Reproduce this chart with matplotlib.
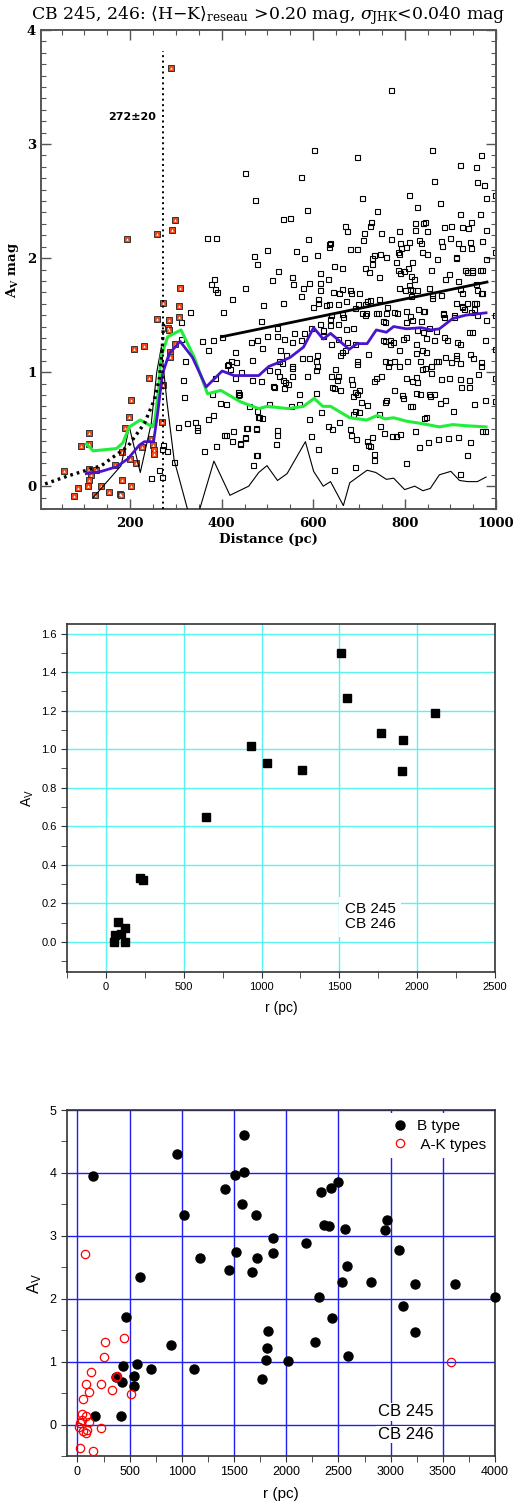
import numpy as np
import matplotlib
matplotlib.use('Agg')
import matplotlib.pyplot as plt
from matplotlib.ticker import MultipleLocator

plt.rcParams['mathtext.fontset'] = 'dejavuserif'

# ---------------- painel 1: A_V x distancia (CB 245/246) ----------------
# estrelas de fundo (quadrados abertos): (distancia pc, A_V mag)
fundo = np.array([
    (272, 0.36), (270, 0.33), (280, 0.31), (262, 0.14), (269, 0.08), (245, 0.07), (296, 0.21),
    (304, 0.52), (317, 0.78), (324, 0.55), (341, 0.56), (347, 0.52), (347, 0.49), (371, 0.59),
    (381, 0.62), (361, 0.31), (388, 0.35), (396, 0.73), (409, 0.72), (435, 0.83), (435, 0.80),
    (405, 0.45), (410, 0.45), (424, 0.48), (422, 0.40), (441, 0.38), (451, 0.42), (456, 0.51),
    (475, 0.50), (460, 0.70), (478, 0.66), (482, 0.61), (469, 0.19), (477, 0.27),
    (367, 2.18), (388, 2.18), (383, 1.82), (376, 1.77), (385, 1.73), (389, 1.70), (423, 1.64),
    (330, 1.53), (402, 1.53), (312, 1.44), (311, 1.29), (357, 1.27), (380, 1.28), (401, 1.31),
    (370, 1.19), (428, 1.18), (320, 1.10), (411, 1.06), (418, 1.03), (430, 0.95), (385, 0.95),
    (316, 0.93), (438, 0.81), (378, 0.81),
    (601, 2.95), (452, 2.75), (574, 2.71), (472, 2.51), (533, 2.34), (550, 2.35), (587, 2.42),
    (588, 2.17), (635, 2.12), (635, 2.10), (470, 2.02), (498, 2.07), (477, 1.95), (563, 2.06),
    (580, 2.00), (608, 2.03), (524, 1.89), (511, 1.81), (553, 1.83), (555, 1.77), (590, 1.78),
    (577, 1.74), (614, 1.87), (633, 1.82), (616, 1.78), (616, 1.72), (450, 1.74), (573, 1.67),
    (611, 1.64), (611, 1.61), (534, 1.61), (490, 1.59), (485, 1.45), (599, 1.57), (628, 1.59),
    (464, 1.26), (477, 1.28), (498, 1.32), (520, 1.39), (520, 1.32), (536, 1.29), (557, 1.34),
    (553, 1.26), (574, 1.28), (596, 1.39), (621, 1.37), (488, 1.21), (528, 1.19), (540, 1.15),
    (414, 1.07), (420, 1.10), (432, 1.09), (443, 1.00), (467, 1.11), (504, 1.02), (525, 1.10),
    (531, 1.08), (553, 1.04), (575, 1.12), (591, 1.12), (608, 1.15), (609, 1.05), (587, 0.97),
    (554, 0.97), (467, 0.93), (485, 0.92), (526, 0.97), (535, 0.93), (544, 0.90), (512, 0.88),
    (770, 3.47), (696, 2.89), (860, 2.95), (707, 2.53), (809, 2.55), (922, 2.82), (967, 2.90),
    (957, 2.80), (864, 2.68), (959, 2.67), (974, 2.64), (977, 2.53), (826, 2.45), (878, 2.48),
    (740, 2.41), (922, 2.39), (964, 2.39), (670, 2.28), (673, 2.24), (726, 2.32), (725, 2.28),
    (712, 2.22), (749, 2.22), (771, 2.17), (788, 2.24), (823, 2.31), (840, 2.31), (844, 2.32),
    (823, 2.25), (848, 2.24), (885, 2.27), (901, 2.28), (925, 2.27), (938, 2.26), (944, 2.32),
    (977, 2.25), (637, 2.13), (680, 2.08), (696, 2.08), (709, 2.16), (789, 2.13), (791, 2.09),
    (810, 2.14), (804, 2.10), (832, 2.16), (835, 2.13), (838, 2.05), (848, 2.04), (880, 2.15),
    (881, 2.11), (899, 2.18), (917, 2.13), (925, 2.09), (943, 2.14), (945, 2.09), (970, 2.15),
    (788, 2.04), (746, 2.04), (729, 2.00), (729, 1.95), (816, 1.97), (870, 1.99), (913, 2.00),
    (977, 1.99), (646, 1.93), (663, 1.91), (713, 1.91), (722, 1.88), (662, 1.73), (681, 1.72),
    (682, 1.69), (656, 1.69), (644, 1.70), (700, 1.69), (713, 1.60), (725, 1.63), (744, 1.64),
    (745, 1.83), (786, 1.90), (808, 1.91), (788, 1.74), (811, 1.73), (813, 1.84), (820, 1.82),
    (854, 1.74), (859, 1.68), (830, 1.55), (840, 1.54), (860, 1.65), (880, 1.68), (858, 1.90),
    (888, 1.82), (896, 1.86), (917, 1.80), (937, 1.88), (947, 1.88), (965, 1.90), (922, 1.73),
    (925, 1.69), (956, 1.77), (958, 1.72), (967, 1.69), (801, 1.72), (762, 1.57), (777, 1.53),
    (737, 1.52), (707, 1.52), (714, 1.50), (752, 1.45), (757, 1.44), (802, 1.44), (817, 1.46),
    (883, 1.51), (885, 1.48), (908, 1.48), (946, 1.53), (952, 1.55), (958, 1.50), (926, 1.57),
    (929, 1.55), (955, 1.61), (978, 1.46), (688, 1.39), (672, 1.38),
    (616, 1.42), (637, 1.41), (654, 1.42), (621, 1.32), (521, 1.01), (554, 1.05), (607, 1.10),
    (607, 1.02), (538, 0.91), (537, 0.86), (515, 0.87), (570, 0.81), (606, 0.82), (552, 0.70),
    (568, 0.72), (503, 0.72), (480, 0.61), (489, 0.60), (454, 0.51), (474, 0.51), (450, 0.43),
    (441, 0.37), (522, 0.49), (521, 0.45), (519, 0.37), (476, 0.27), (595, 0.44), (591, 0.59),
    (617, 0.65), (610, 0.33), (646, 0.14), (640, 0.97), (651, 0.93), (642, 0.87), (659, 1.15),
    (662, 1.18), (654, 1.29), (638, 1.25), (673, 1.26), (692, 1.25), (720, 1.16), (696, 1.10),
    (696, 1.07), (646, 0.86), (658, 0.84), (633, 0.53), (641, 0.50), (657, 0.56), (682, 0.94),
    (684, 0.90), (691, 0.83), (701, 0.84), (688, 0.79), (696, 0.81), (704, 0.74), (717, 0.71),
    (691, 0.66), (688, 0.63), (700, 0.65), (681, 0.50), (682, 0.45), (693, 0.41), (691, 0.17),
    (733, 0.92), (748, 0.97), (760, 0.76), (758, 0.74), (744, 0.63), (777, 0.84), (795, 0.80),
    (797, 0.77), (717, 0.40), (719, 0.36), (725, 0.35), (729, 0.43), (733, 0.28), (733, 0.23),
    (747, 0.53), (754, 0.47), (772, 0.44), (790, 0.46), (780, 0.44), (756, 1.10), (765, 1.09),
    (776, 1.10), (767, 1.28), (758, 1.27), (775, 1.26), (796, 1.29), (825, 1.17), (837, 1.19),
    (846, 1.18), (804, 0.95), (824, 0.96), (816, 0.92), (826, 0.91), (824, 0.82), (834, 0.81),
    (853, 0.81), (856, 0.79), (865, 0.81), (812, 0.70), (817, 0.70), (802, 0.20), (823, 0.48),
    (832, 0.34), (843, 0.60), (847, 0.61), (851, 0.39), (873, 0.41), (895, 0.42), (916, 0.43),
    (942, 0.39), (936, 0.27), (921, 0.11), (969, 0.48), (826, 1.37), (841, 1.35), (846, 1.30),
    (853, 1.39), (869, 1.36), (886, 1.31), (892, 1.28), (915, 1.26), (922, 1.25), (940, 1.35),
    (947, 1.35), (833, 1.10), (838, 1.03), (857, 1.05), (869, 1.10), (888, 1.13), (901, 1.09),
    (913, 1.15), (920, 1.08), (943, 1.16), (968, 1.09), (857, 0.99), (880, 0.94), (898, 0.95),
    (920, 0.94), (941, 0.93), (961, 0.98), (941, 0.87), (877, 0.73), (888, 0.76), (906, 0.66),
    (923, 0.87), (951, 0.72), (975, 0.76), (975, 0.48),
    (635, 1.60), (654, 1.60), (672, 1.62), (699, 1.60), (717, 1.62), (638, 1.50), (636, 1.47),
    (664, 1.51), (666, 1.48), (691, 1.56), (715, 1.52), (741, 1.52), (760, 1.52), (783, 1.52),
    (802, 1.54), (842, 1.54), (811, 1.49), (836, 1.45), (884, 1.52), (907, 1.50), (925, 1.58),
    (913, 1.61), (937, 1.61), (951, 1.61), (969, 1.69), (912, 2.01), (932, 1.90), (948, 1.90),
    (969, 1.90), (789, 1.87), (798, 1.89), (809, 1.76), (817, 1.72), (828, 1.72), (814, 1.67),
    (760, 2.01), (782, 1.97), (786, 2.05), (733, 2.03), (647, 1.03), (654, 0.97), (738, 0.95),
    (763, 1.05), (787, 1.05), (805, 1.10), (844, 1.04), (872, 1.10), (912, 1.12), (949, 1.12),
    (967, 1.05), (580, 1.34), (669, 1.19), (753, 1.28), (769, 1.25), (788, 1.19), (804, 1.31),
    (825, 1.25), (864, 1.28), (975, 1.28),
    (997, 2.55), (997, 2.05), (997, 1.50), (997, 1.20), (997, 0.95), (997, 0.75),
])

# estrelas de primeiro plano (quadrados vermelhos)
frente = np.array([
    (289, 3.67), (298, 2.33), (291, 2.25), (259, 2.21), (194, 2.17), (309, 1.74), (272, 1.61),
    (306, 1.58), (259, 1.47), (285, 1.46), (306, 1.48), (282, 1.39), (285, 1.37), (299, 1.25),
    (286, 1.18), (288, 1.13), (209, 1.20), (230, 1.23), (242, 0.95), (272, 0.89), (202, 0.76),
    (198, 0.61), (189, 0.51), (109, 0.47), (92, 0.35), (109, 0.37), (245, 0.41), (226, 0.34),
    (249, 0.36), (253, 0.32), (251, 0.28), (183, 0.30), (199, 0.24), (167, 0.19), (213, 0.20),
    (56, 0.13), (110, 0.15), (126, 0.14), (114, 0.10), (109, 0.05), (181, 0.05), (108, 0.00),
    (137, 0.00), (85, -0.02), (202, 0.00), (154, -0.05), (78, -0.09), (123, -0.08), (178, -0.07),
    (180, -0.08), (269, 0.56),
])

# curva verde (media corrida)
verde = np.array([
    (104, 0.37), (119, 0.31), (170, 0.33), (184, 0.38), (198, 0.52), (222, 0.58), (249, 0.52),
    (254, 0.58), (262, 0.85), (267, 1.13), (282, 1.31), (311, 1.37), (340, 1.13), (369, 0.81),
    (398, 0.84), (441, 0.74), (481, 0.68), (499, 0.70), (546, 0.68), (579, 0.70), (602, 0.77),
    (621, 0.70), (638, 0.70), (680, 0.60), (717, 0.58), (740, 0.62), (757, 0.59), (776, 0.60),
    (804, 0.57), (836, 0.55), (876, 0.52), (905, 0.54), (934, 0.53), (978, 0.52),
])

# curva roxa (mediana corrida)
roxa = np.array([
    (104, 0.11), (137, 0.13), (170, 0.17), (195, 0.24), (220, 0.36), (231, 0.39), (251, 0.39),
    (260, 0.64), (267, 0.87), (271, 0.99), (285, 1.16), (309, 1.27), (336, 1.13), (366, 0.87),
    (401, 1.01), (427, 0.97), (481, 0.97), (503, 1.05), (528, 1.09), (550, 1.13), (579, 1.22),
    (601, 1.39), (622, 1.29), (638, 1.34), (679, 1.20), (696, 1.25), (718, 1.25), (738, 1.37),
    (760, 1.35), (776, 1.40), (804, 1.38), (836, 1.39), (858, 1.37), (876, 1.38), (905, 1.47),
    (934, 1.50), (978, 1.52),
])

# curva preta fina (dispersao)
sigma = np.array([
    (119, -0.10), (180, 0.18), (198, 0.52), (222, 0.12), (246, 0.55), (258, 1.00), (268, 1.22),
    (280, 0.75), (296, 0.23), (338, -0.39), (383, 0.22), (418, -0.08), (459, 0.00), (481, 0.12),
    (499, 0.18), (522, 0.05), (543, 0.11), (583, 0.39), (601, 0.13), (622, 0.00), (638, 0.04),
    (666, -0.17), (680, 0.03), (718, 0.14), (737, 0.12), (760, 0.06), (776, 0.07), (800, -0.03),
    (822, 0.00), (840, -0.04), (856, -0.02), (876, 0.10), (901, 0.13), (920, 0.05), (938, 0.04),
    (959, 0.04), (978, 0.08),
])

# ajuste linear das estrelas de fundo
ajuste_d = [400, 980]
ajuste_av = [1.31, 1.79]

# curva pontilhada (modelo) e distancia da nuvem
modelo = np.array([
    (14, 0.02), (64, 0.09), (137, 0.18), (195, 0.35), (231, 0.55), (253, 0.76), (264, 0.95),
    (270, 1.20), (273, 1.45),
])
dist_nuvem = 272
dist_topo = 3.82
rotulo_nuvem = '272\u00b120'

# ---------------- painel 2: A_V x r ----------------
r2 = [1510, 1549, 2115, 1770, 1909, 1905, 931, 1034, 1263, 641, 219, 238, 79, 120, 58, 53, 124, 100]
av2 = [1.50, 1.268, 1.186, 1.086, 1.049, 0.887, 1.018, 0.93, 0.894, 0.649, 0.332, 0.32, 0.104,
       0.07, 0.035, 0.0, 0.0, 0.04]

# ---------------- painel 3: tipos B e A-K ----------------
r_b = [154, 954, 1594, 1507, 1594, 1411, 1581, 1024, 1706, 1171, 602, 1517, 1456, 1677, 1725,
       1869, 1869, 2186, 2333, 2429, 2499, 2365, 2406, 2566, 2970, 2950, 3085, 2579, 2538, 2810,
       3232, 3613, 3997, 2317, 3123, 2438, 3235, 2275, 2595, 2013, 1811, 1814, 1827, 1766, 1120,
       893, 707, 573, 470, 438, 544, 538, 429, 374, 422, 166]
av_b = [3.95, 4.30, 4.60, 3.97, 4.01, 3.75, 3.50, 3.33, 3.33, 2.65, 2.35, 2.75, 2.45, 2.42, 2.65,
        2.97, 2.73, 2.88, 3.70, 3.76, 3.86, 3.18, 3.16, 3.11, 3.25, 3.10, 2.77, 2.52, 2.26, 2.26,
        2.23, 2.24, 2.02, 2.02, 1.88, 1.70, 1.47, 1.32, 1.09, 1.01, 1.03, 1.21, 1.48, 0.72, 0.88,
        1.26, 0.88, 0.96, 1.71, 0.93, 0.78, 0.62, 0.68, 0.75, 0.14, 0.13]
r_ak = [77, 266, 256, 445, 381, 371, 128, 80, 112, 51, 227, 336, 515, 48, 83, 45, 112, 13, 29,
        58, 83, 96, 224, 29, 154, 3574]
av_ak = [2.71, 1.31, 1.08, 1.37, 0.77, 0.75, 0.84, 0.64, 0.51, 0.40, 0.64, 0.55, 0.48, 0.17,
         0.14, 0.07, 0.04, -0.04, 0.03, -0.10, -0.14, -0.08, -0.05, -0.37, -0.42, 0.99]


fig = plt.figure(figsize=(5.16, 15.09), dpi=100)

# ---------- painel 1 ----------
serif = 'DejaVu Serif'
ax1 = fig.add_axes([0.0795, 0.6627, 0.882, 0.3174])
ax1.plot(fundo[:, 0], fundo[:, 1], 's', ms=3.6, mfc='none', mec='black', mew=0.8, zorder=2)
ax1.plot(frente[:, 0], frente[:, 1], 's', ms=4.6, mfc='#ee4614', mec='#333333', mew=0.7, zorder=3)
ax1.plot(frente[:, 0], frente[:, 1], '^', ms=1.8, mfc='white', mec='white', mew=0, zorder=3)
ax1.plot(sigma[:, 0], sigma[:, 1], '-', color='black', lw=0.8, zorder=4)
ax1.plot(verde[:, 0], verde[:, 1], '-', color='#22ee3a', lw=2.2, zorder=5)
ax1.plot(roxa[:, 0], roxa[:, 1], '-', color='#4a14cc', lw=2.0, zorder=6)
ax1.plot(ajuste_d, ajuste_av, '-', color='black', lw=2.0, zorder=6)
ax1.plot(modelo[:, 0], modelo[:, 1], color='black', lw=2.4, ls=(0, (0.8, 1.2)), zorder=7)
ax1.plot([dist_nuvem, dist_nuvem], [-0.2, dist_topo], color='black', lw=1.4,
         ls=(0, (1, 1.8)), zorder=7)
ax1.text(204, 3.24, rotulo_nuvem, ha='center', va='center', fontsize=8, fontweight='bold',
         family='DejaVu Sans')
ax1.set_xlim(5, 1000)
ax1.set_ylim(-0.2, 4)
ax1.xaxis.set_major_locator(MultipleLocator(200))
ax1.xaxis.set_minor_locator(MultipleLocator(50))
ax1.yaxis.set_major_locator(MultipleLocator(1))
ax1.yaxis.set_minor_locator(MultipleLocator(0.1))
ax1.tick_params(which='both', direction='in', top=True, right=True, color='#555555')
ax1.tick_params(which='major', length=7, width=1.0, labelsize=9.5)
ax1.tick_params(axis='x', which='major', pad=6)
ax1.tick_params(which='minor', length=3.5, width=0.8)
for lab in ax1.get_xticklabels() + ax1.get_yticklabels():
    lab.set_family(serif)
    lab.set_fontweight('bold')
for s in ax1.spines.values():
    s.set_color('#555555')
    s.set_linewidth(1.4)
ax1.set_xlabel('Distance (pc)', family=serif, fontweight='bold', fontsize=9.5, labelpad=2)
ax1.set_ylabel(r'A$_\mathregular{V}$ mag', family=serif, fontweight='bold', fontsize=9.5,
               labelpad=4)
ax1.set_title(r'CB 245, 246: $\langle$H$-$K$\rangle_{\rm reseau}$ >0.20 mag, '
              r'$\sigma_{\rm JHK}$<0.040 mag', family=serif, fontsize=12.4, pad=8)

# ---------- painel 2 ----------
sans = 'Liberation Sans'
ax2 = fig.add_axes([0.1298, 0.3559, 0.8295, 0.2306])
ax2.set_axisbelow(True)
ax2.grid(True, which='major', color='#5cf2f2', lw=1.0)
ax2.plot(r2, av2, 's', ms=6, color='black', zorder=3)
ax2.set_xlim(-250, 2500)
ax2.set_ylim(-0.156, 1.65)
ax2.xaxis.set_major_locator(MultipleLocator(500))
ax2.xaxis.set_minor_locator(MultipleLocator(250))
ax2.yaxis.set_major_locator(MultipleLocator(0.2))
ax2.yaxis.set_minor_locator(MultipleLocator(0.1))
ax2.yaxis.set_major_formatter(matplotlib.ticker.FormatStrFormatter('%.1f'))
ax2.tick_params(which='both', direction='out', color='#333333', labelsize=8)
ax2.tick_params(which='major', length=4)
ax2.tick_params(which='minor', length=4)
for lab in ax2.get_xticklabels() + ax2.get_yticklabels():
    lab.set_family(sans)
for s in ax2.spines.values():
    s.set_color('#333333')
    s.set_linewidth(1.2)
ax2.set_xlabel('r (pc)', family=sans, fontsize=10, labelpad=6)
ax2.set_ylabel(r'$\mathregular{A_V}$', family=sans, fontsize=10, labelpad=4)
ax2.text(1699, 0.13, 'CB 245\nCB 246', ha='center', va='center', fontsize=11, family=sans,
         linespacing=1.1, bbox=dict(facecolor='white', edgecolor='none', pad=4), zorder=4)

# ---------- painel 3 ----------
ax3 = fig.add_axes([0.1298, 0.0351, 0.8295, 0.2293])
ax3.set_axisbelow(True)
ax3.grid(True, which='major', color='#2020ee', lw=1.0)
ax3.plot(r_b, av_b, 'o', ms=6.5, color='black', label='B type', zorder=3, clip_on=False)
ax3.plot(r_ak, av_ak, 'o', ms=6, mfc='none', mec='red', mew=0.9, label=' A-K types', zorder=3)
ax3.set_xlim(-100, 4000)
ax3.set_ylim(-0.5, 5)
ax3.xaxis.set_major_locator(MultipleLocator(500))
ax3.xaxis.set_minor_locator(MultipleLocator(250))
ax3.yaxis.set_major_locator(MultipleLocator(1))
ax3.yaxis.set_minor_locator(MultipleLocator(0.5))
ax3.tick_params(which='both', direction='out', color='#333333', labelsize=9)
ax3.tick_params(which='major', length=4)
ax3.tick_params(which='minor', length=4)
for lab in ax3.get_xticklabels() + ax3.get_yticklabels():
    lab.set_family(sans)
for s in ax3.spines.values():
    s.set_color('#333333')
    s.set_linewidth(1.2)
ax3.set_xlabel('r (pc)', family=sans, fontsize=11, labelpad=6)
ax3.set_ylabel(r'$\mathregular{A_V}$', family=sans, fontsize=12, labelpad=4)
leg = ax3.legend(loc='upper right', prop={'family': sans, 'size': 11}, frameon=True,
                 handletextpad=0.6, borderaxespad=0.2, labelspacing=0.3, handlelength=1.0)
leg.get_frame().set_facecolor('white')
leg.get_frame().set_edgecolor('none')
leg.get_frame().set_alpha(1)
ax3.text(3141, 0.2, 'CB 245', ha='center', va='center', fontsize=12, family=sans,
         bbox=dict(facecolor='white', edgecolor='none', pad=1), zorder=4)
ax3.text(3141, -0.16, 'CB 246', ha='center', va='center', fontsize=12, family=sans,
         bbox=dict(facecolor='white', edgecolor='none', pad=1), zorder=4)

fig.savefig('out.png', dpi=100)
